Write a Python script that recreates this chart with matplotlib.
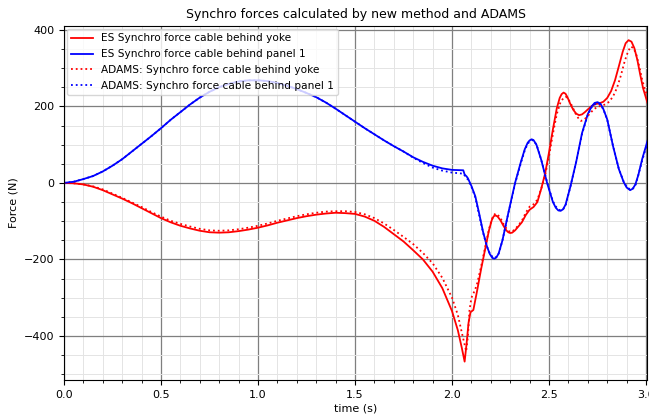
import matplotlib
matplotlib.use("Agg")
import matplotlib.pyplot as plt
from matplotlib.ticker import MultipleLocator

# ES result, cable behind yoke (red, solid)
t_es_yoke = [0.00, 0.05, 0.10, 0.15, 0.20, 0.25, 0.30, 0.35, 0.40, 0.45, 0.50, 0.55, 0.60, 0.65,
             0.70, 0.75, 0.80, 0.85, 0.90, 0.95, 1.00, 1.05, 1.10, 1.15, 1.20, 1.25, 1.30, 1.35,
             1.40, 1.45, 1.50, 1.55, 1.60, 1.65, 1.70, 1.75, 1.80, 1.85, 1.90, 1.95, 2.00, 2.03,
             2.05, 2.065, 2.075, 2.085, 2.095, 2.11, 2.13, 2.15, 2.17, 2.19, 2.205, 2.215, 2.225,
             2.235, 2.25, 2.265, 2.28, 2.29, 2.30, 2.31, 2.325, 2.34, 2.36, 2.38, 2.40, 2.42,
             2.44, 2.46, 2.48, 2.50, 2.52, 2.54, 2.555, 2.565, 2.575, 2.585, 2.595, 2.61, 2.625,
             2.64, 2.655, 2.67, 2.685, 2.70, 2.72, 2.74, 2.76, 2.78, 2.80, 2.82, 2.84, 2.86, 2.88,
             2.895, 2.91, 2.925, 2.94, 2.955, 2.97, 2.985, 3.01]
f_es_yoke = [0, -1, -4, -10, -19, -30, -41, -53, -66, -79, -92, -103, -112, -119,
             -125, -129, -130, -129, -126, -122, -117, -111, -104, -98, -92, -87, -83, -80,
             -78, -79, -81, -88, -99, -115, -134, -153, -176, -200, -232, -275, -335, -385,
             -430, -467, -420, -366, -338, -332, -280, -225, -175, -125, -97, -87, -85,
             -88, -98, -112, -124, -129, -131, -130, -124, -115, -103, -84, -70, -63,
             -50, -15, 25, 80, 140, 195, 222, 232, 236, 233, 224, 206, 191,
             181, 177, 179, 185, 192, 201, 206, 208, 212, 222, 240, 268, 305, 343,
             365, 373, 369, 352, 322, 283, 247, 205]

# ES result, cable behind panel 1 (blue, solid)
t_es_panel = [0.00, 0.05, 0.10, 0.15, 0.20, 0.25, 0.30, 0.35, 0.40, 0.45, 0.50, 0.55, 0.60, 0.65,
              0.70, 0.75, 0.80, 0.85, 0.90, 0.95, 1.00, 1.05, 1.10, 1.15, 1.20, 1.25, 1.30, 1.35,
              1.40, 1.45, 1.50, 1.55, 1.60, 1.65, 1.70, 1.75, 1.80, 1.85, 1.90, 1.95, 2.00, 2.058,
              2.065, 2.075, 2.082, 2.10, 2.12, 2.14, 2.16, 2.18, 2.195, 2.208, 2.218, 2.228, 2.24,
              2.26, 2.29, 2.325, 2.355, 2.375, 2.39, 2.40, 2.41, 2.42, 2.435, 2.46, 2.49, 2.52,
              2.535, 2.548, 2.56, 2.572, 2.585, 2.61, 2.64, 2.67, 2.70, 2.72, 2.735, 2.75, 2.765,
              2.78, 2.80, 2.83, 2.86, 2.885, 2.90, 2.918, 2.932, 2.945, 2.96, 2.98, 3.01]
f_es_panel = [0, 3, 10, 18, 30, 45, 62, 82, 102, 122, 143, 165, 185, 205,
              223, 238, 250, 259, 265, 268, 268, 266, 261, 254, 245, 235, 224, 210,
              194, 177, 160, 143, 127, 111, 96, 82, 67, 55, 45, 38, 34, 33,
              22, 17, 12, -8, -35, -80, -128, -166, -186, -196, -198, -195, -185,
              -150, -79, 0, 55, 88, 105, 111, 114, 112, 100, 60, 0, -50,
              -65, -72, -73, -69, -57, -10, 55, 130, 180, 200, 209, 211, 207,
              193, 166, 96, 36, 2, -12, -19, -15, -4, 20, 62, 114]

# ADAMS result, cable behind yoke (red, dotted)
t_ad_yoke = [0.00, 0.05, 0.10, 0.15, 0.20, 0.25, 0.30, 0.35, 0.40, 0.45, 0.50, 0.55, 0.60, 0.65,
             0.70, 0.75, 0.80, 0.85, 0.90, 0.95, 1.00, 1.05, 1.10, 1.15, 1.20, 1.25, 1.30, 1.35,
             1.40, 1.45, 1.50, 1.55, 1.60, 1.65, 1.70, 1.75, 1.80, 1.85, 1.90, 1.95, 2.00, 2.03,
             2.05, 2.073, 2.082, 2.09, 2.10, 2.119, 2.13, 2.15, 2.17, 2.19, 2.205, 2.215, 2.225,
             2.235, 2.25, 2.265, 2.28, 2.29, 2.30, 2.31, 2.325, 2.34, 2.36, 2.38, 2.40, 2.42,
             2.44, 2.46, 2.48, 2.50, 2.52, 2.54, 2.56, 2.575, 2.585, 2.595, 2.61, 2.625, 2.64,
             2.655, 2.665, 2.68, 2.695, 2.71, 2.73, 2.75, 2.77, 2.79, 2.81, 2.83, 2.85, 2.87, 2.89,
             2.905, 2.92, 2.935, 2.95, 2.965, 2.98, 2.995, 3.01]
f_ad_yoke = [0, -1, -4, -9, -17, -28, -39, -51, -63, -76, -88, -99, -107, -114,
             -120, -124, -125, -124, -121, -117, -112, -106, -99, -93, -87, -82, -78, -75,
             -74, -74, -76, -82, -92, -106, -123, -141, -160, -183, -210, -248, -300, -345,
             -390, -440, -400, -333, -300, -279, -262, -218, -170, -122, -95, -84, -80,
             -83, -92, -107, -119, -125, -128, -127, -121, -112, -99, -78, -62, -56,
             -44, -15, 20, 70, 128, 180, 212, 222, 225, 222, 210, 194, 178,
             166, 162, 165, 172, 181, 192, 199, 202, 205, 212, 226, 248, 280, 318,
             340, 356, 353, 335, 305, 270, 243, 225]

# ADAMS result, cable behind panel 1 (blue, dotted)
t_ad_panel = [0.00, 0.05, 0.10, 0.15, 0.20, 0.25, 0.30, 0.35, 0.40, 0.45, 0.50, 0.55, 0.60, 0.65,
              0.70, 0.75, 0.80, 0.85, 0.90, 0.95, 1.00, 1.05, 1.10, 1.15, 1.20, 1.25, 1.30, 1.35,
              1.40, 1.45, 1.50, 1.55, 1.60, 1.65, 1.70, 1.75, 1.80, 1.85, 1.90, 1.95, 2.00, 2.06,
              2.07, 2.08, 2.10, 2.12, 2.14, 2.16, 2.18, 2.195, 2.21, 2.22, 2.23, 2.242,
              2.26, 2.29, 2.325, 2.355, 2.375, 2.39, 2.40, 2.412, 2.422, 2.437, 2.46, 2.49, 2.52,
              2.537, 2.55, 2.562, 2.574, 2.587, 2.61, 2.64, 2.67, 2.70, 2.72, 2.737, 2.752, 2.767,
              2.782, 2.80, 2.83, 2.86, 2.885, 2.902, 2.92, 2.934, 2.947, 2.96, 2.98, 3.01]
f_ad_panel = [0, 3, 10, 18, 30, 45, 62, 82, 102, 122, 143, 165, 185, 205,
              223, 238, 250, 259, 265, 268, 268, 266, 261, 254, 245, 235, 224, 210,
              194, 177, 160, 143, 127, 111, 96, 82, 66, 52, 40, 32, 27, 24,
              15, 10, -10, -38, -84, -130, -166, -185, -194, -196, -193, -183,
              -150, -80, -2, 52, 85, 102, 108, 112, 110, 98, 60, 2, -48,
              -63, -70, -72, -68, -56, -10, 55, 128, 178, 198, 206, 208, 204,
              190, 165, 96, 36, 3, -11, -18, -14, -4, 20, 58, 110]

fig = plt.figure(figsize=(6.49, 4.17), dpi=100)
ax = fig.add_axes([64 / 649, 1 - 380 / 417, (647 - 64) / 649, (380 - 26) / 417])

ax.plot(t_es_yoke, f_es_yoke, color="red", lw=1.3, label="ES Synchro force cable behind yoke")
ax.plot(t_es_panel, f_es_panel, color="blue", lw=1.3, label="ES Synchro force cable behind panel 1")
ax.plot(t_ad_yoke, f_ad_yoke, color="red", lw=1.3, ls=":", label="ADAMS: Synchro force cable behind yoke")
ax.plot(t_ad_panel, f_ad_panel, color="blue", lw=1.3, ls=":", label="ADAMS: Synchro force cable behind panel 1")

ax.set_xlim(0, 3.005)
ax.set_ylim(-515, 410)
ax.xaxis.set_major_locator(MultipleLocator(0.5))
ax.xaxis.set_minor_locator(MultipleLocator(0.1))
ax.yaxis.set_major_locator(MultipleLocator(200))
ax.yaxis.set_minor_locator(MultipleLocator(50))
ax.grid(which="major", color="#7f7f7f", lw=0.9)
ax.grid(which="minor", color="#e4e4e4", lw=0.7)
ax.set_axisbelow(True)
ax.tick_params(labelsize=8)

ax.set_title("Synchro forces calculated by new method and ADAMS", fontsize=9)
ax.set_xlabel("time (s)", fontsize=8, labelpad=3)
ax.set_ylabel("Force (N)", fontsize=8)
ax.legend(loc="upper left", fontsize=7.6, borderaxespad=0.3, handlelength=2.0, labelspacing=0.55)

fig.savefig("out.png", dpi=100)
